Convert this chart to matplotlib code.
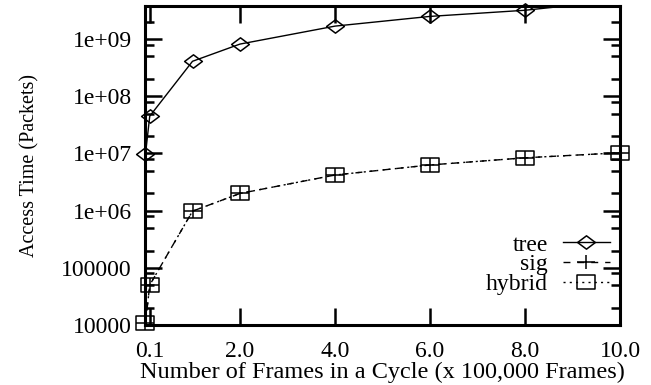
import numpy as np
import matplotlib
matplotlib.use('Agg')
import matplotlib.pyplot as plt
from matplotlib.path import Path
from matplotlib.lines import Line2D
from matplotlib.ticker import LogLocator, FixedLocator, FixedFormatter, NullFormatter

### data ###
frames = [0.01, 0.1, 1, 2, 4, 6, 8, 10]
tree = [9.8e6, 4.5e7, 4.1e8, 8.2e8, 1.69e9, 2.5e9, 3.2e9, 4.8e9]
sig = [1.08e4, 5.0e4, 9.8e5, 2.0e6, 4.2e6, 6.3e6, 8.4e6, 1.03e7]
hybrid = [1.08e4, 5.0e4, 9.8e5, 2.0e6, 4.2e6, 6.3e6, 8.4e6, 1.03e7]

xtick_vals = [0.1, 2, 4, 6, 8, 10]
xtick_labels = ['0.1', '2.0', '4.0', '6.0', '8.0', '10.0']
ytick_vals = [1e4, 1e5, 1e6, 1e7, 1e8, 1e9]
ytick_labels = ['10000', '100000', '1e+06', '1e+07', '1e+08', '1e+09']

YMIN, YMAX = 1e4, 3.8e9

plt.rcParams['font.family'] = ['Liberation Serif', 'DejaVu Serif']
plt.rcParams['font.size'] = 17

# gnuplot-ish point shapes (a bit wider than tall, like the picture)
diamond = Path([(-1, 0), (0, 0.75), (1, 0), (0, -0.75), (-1, 0)], closed=True)
square = Path([(-1, -0.8), (1, -0.8), (1, 0.8), (-1, 0.8), (-1, -0.8)], closed=True)
plus = Path([(-1, 0), (1, 0), (0, -0.8), (0, 0.8)],
            [Path.MOVETO, Path.LINETO, Path.MOVETO, Path.LINETO])

series = [
    ('tree', tree, '-', diamond),
    ('sig', sig, (0, (5, 5)), plus),
    ('hybrid', hybrid, (0, (1.5, 3)), square),
]
MS = 12.8

fig = plt.figure(figsize=(6.51, 3.85), dpi=100)
ax = fig.add_axes([145/651, 1 - 325/385, 475/651, 319/385])

handles = []
for name, vals, ls, mk in series:
    vals = np.array(vals)
    ax.plot(frames, vals, color='k', ls=ls, lw=1)
    # points drawn unclipped so the ones on the frame show whole
    inside = vals <= YMAX
    ax.plot(np.array(frames)[inside], vals[inside], ls='none', marker=mk, ms=MS,
            mfc='none', mec='k', mew=1.1, clip_on=False)
    handles.append(Line2D([], [], color='k', ls=ls, lw=1, marker=mk, ms=MS,
                          mfc='none', mec='k', mew=1.1))

ax.set_yscale('log')
ax.set_xlim(0, 10)
ax.set_ylim(YMIN, YMAX)

ax.xaxis.set_major_locator(FixedLocator(xtick_vals))
ax.xaxis.set_major_formatter(FixedFormatter(xtick_labels))
ax.yaxis.set_major_locator(FixedLocator(ytick_vals))
ax.yaxis.set_major_formatter(FixedFormatter(ytick_labels))
ax.yaxis.set_minor_locator(LogLocator(base=10, subs=(2, 5, 8)))
ax.yaxis.set_minor_formatter(NullFormatter())

ax.tick_params(which='both', direction='in', top=True, right=True, width=1.8)
ax.tick_params(which='major', length=12)
ax.tick_params(which='minor', length=6.5)
ax.tick_params(axis='y', pad=9.5)
ax.tick_params(axis='x', pad=11.5)
for sp in ax.spines.values():
    sp.set_linewidth(2.2)

ax.set_xlabel('Number of Frames in a Cycle (x 100,000 Frames)', labelpad=0,
              fontsize=17.5)
ax.set_ylabel('Access Time (Packets)', fontsize=14.5)
ax.yaxis.set_label_coords(-0.222, 0.5)

ax.legend(handles, ['tree', 'sig', 'hybrid'], loc='upper right',
          bbox_to_anchor=(0.979, 0.285), frameon=False, markerfirst=False,
          handlelength=2.0, handletextpad=0.62, labelspacing=-0.08,
          borderpad=0, borderaxespad=0, numpoints=1)

fig.savefig('out.png', dpi=100)
